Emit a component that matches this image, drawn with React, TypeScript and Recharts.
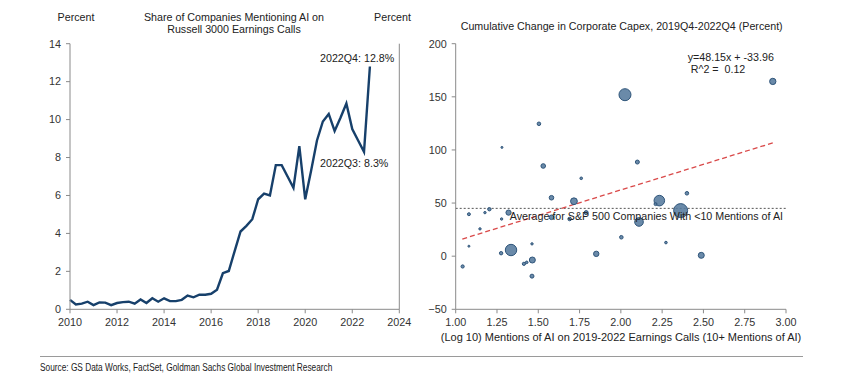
import React from "react";
import {
  Line,
  LineChart,
  ReferenceLine,
  Scatter,
  ScatterChart,
  XAxis,
  YAxis,
  ZAxis,
} from "recharts";

// share of Russell 3000 companies mentioning AI, quarterly from 2010Q1
const SHARE_START_YEAR = 2010;
const shareValues = [
  0.5, 0.25, 0.3, 0.4,
  0.22, 0.36, 0.35, 0.22,
  0.33, 0.38, 0.4, 0.3,
  0.52, 0.33, 0.58, 0.4,
  0.58, 0.43, 0.43, 0.5,
  0.72, 0.63, 0.77, 0.77,
  0.82, 1.03, 1.9, 2.02,
  3.07, 4.1, 4.4, 4.75,
  5.8, 6.1, 6.0, 7.6,
  7.6, 7.0, 6.4, 8.6,
  5.8, 7.3, 8.9, 9.9,
  10.3, 9.4, 10.1, 10.85,
  9.5, 8.9, 8.3, 12.8,
];
const yearTicks = [2010, 2012, 2014, 2016, 2018, 2020, 2022, 2024];
const percentTicks = [0, 2, 4, 6, 8, 10, 12, 14];

// capex scatter: log10 mentions, cumulative capex change, bubble weight
const mentionsLog = [
  2.025, 2.92, 1.504, 1.28, 1.53, 2.1, 1.76, 2.4, 1.58, 1.716,
  2.233, 2.21, 2.362, 2.11, 1.79, 1.69, 1.58, 1.08, 1.177, 1.204,
  1.32, 1.278, 1.147, 1.08, 1.335, 1.275, 1.462, 1.464, 1.413, 1.43,
  1.462, 1.042, 1.851, 2.003, 2.273, 2.487,
];
const capexChange = [
  152, 164.5, 124.6, 102.4, 84.9, 88.6, 73.3, 59.2, 55, 51.7,
  52.3, 49, 42.9, 32.2, 41, 35, 36.6, 39.5, 41, 44.2,
  41, 35, 25.7, 9.4, 5.8, 2.8, 11.6, -3.6, -7.2, -5.8,
  -18.8, -9.7, 2.2, 17.8, 12.8, 0.8,
];
const bubbleWeight = [
  36, 10, 3.2, 1, 5.3, 4, 1.7, 3.2, 5.3, 11.5,
  28, 2.2, 49, 18.5, 4, 3.2, 5.3, 2.2, 1.4, 2.9,
  6.8, 1.4, 1.4, 1, 32.5, 2.9, 1.4, 9, 2.6, 1.7,
  4, 2.6, 7.3, 3.2, 1.7, 9,
];
const mentionTicks = [1, 1.25, 1.5, 1.75, 2, 2.25, 2.5, 2.75, 3];
const capexTicks = [-50, 0, 50, 100, 150, 200];
const TREND_SLOPE = 48.15;
const TREND_INTERCEPT = -33.96;
const trendRange = [1.04, 2.92];
const SP500_AVERAGE = 45;

const FONT = "'Liberation Sans', Arial, Helvetica, sans-serif";
const AXIS = "#8a8a8a";
const TICK = { fill: "#333", fontSize: 10.8, fontFamily: FONT };

const shareData = shareValues.map((v, i) => ({ t: SHARE_START_YEAR + i / 4, v }));
const capexData = mentionsLog.map((x, i) => ({ x, y: capexChange[i], z: bubbleWeight[i] }));
const trendSegment = trendRange.map((x) => ({ x, y: TREND_SLOPE * x + TREND_INTERCEPT }));

const Txt = ({
  x,
  y,
  children,
  size = 10.7,
  align = "left",
  squeeze = 1,
}: {
  x: number;
  y: number;
  children: React.ReactNode;
  size?: number;
  align?: "left" | "center" | "right";
  squeeze?: number;
}) => {
  const shift = align === "center" ? "translateX(-50%)" : align === "right" ? "translateX(-100%)" : "";
  return (
    <div
      style={{
        position: "absolute",
        left: x,
        top: y - size * 0.6,
        fontSize: size,
        lineHeight: 1.2,
        fontFamily: FONT,
        color: "#222",
        whiteSpace: "pre",
        textAlign: align,
        transformOrigin: "left center",
        transform: `${shift} scaleX(${squeeze})`,
      }}
    >
      {children}
    </div>
  );
};

const fmtCapex = (v: number) => (v < 0 ? `\u2212${-v}` : `${v}`);

export default function App() {
  return (
    <div
      style={{
        position: "absolute",
        left: 0,
        top: 0,
        width: 851,
        height: 386,
        background: "#fff",
        overflow: "hidden",
      }}
    >
      <div style={{ position: "absolute", left: 0, top: 0 }}>
        <LineChart
          width={430}
          height={340}
          data={shareData}
          margin={{ top: 43.7, right: 5.7, left: 30, bottom: 10.7 }}
        >
          <XAxis
            dataKey="t"
            type="number"
            domain={[2010, 2024]}
            ticks={yearTicks}
            height={20}
            stroke={AXIS}
            tick={TICK}
            tickSize={4}
            tickMargin={5}
            interval={0}
          />
          <YAxis
            yAxisId="l"
            domain={[0, 14]}
            ticks={percentTicks}
            width={40}
            stroke={AXIS}
            tick={TICK}
            tickSize={4}
            tickMargin={5}
            interval={0}
          />
          <YAxis
            yAxisId="r"
            orientation="right"
            domain={[0, 14]}
            ticks={percentTicks}
            width={25}
            stroke={AXIS}
            tick={TICK}
            tickSize={4}
            tickMargin={1}
            interval={0}
          />
          <Line
            yAxisId="l"
            dataKey="v"
            type="linear"
            stroke="#17406b"
            strokeWidth={2.4}
            dot={false}
            isAnimationActive={false}
          />
        </LineChart>
      </div>

      <div style={{ position: "absolute", left: 420, top: 0 }}>
        <ScatterChart
          width={431}
          height={340}
          margin={{ top: 43.7, right: 65, left: 5.7, bottom: 10.7 }}
        >
          <XAxis
            dataKey="x"
            type="number"
            domain={[1, 3]}
            ticks={mentionTicks}
            tickFormatter={(v: number) => v.toFixed(2)}
            height={20}
            stroke={AXIS}
            tick={TICK}
            tickSize={4}
            tickMargin={5}
            interval={0}
          />
          <YAxis
            dataKey="y"
            type="number"
            domain={[-50, 200]}
            ticks={capexTicks}
            tickFormatter={fmtCapex}
            width={30}
            stroke={AXIS}
            tick={TICK}
            tickSize={4}
            tickMargin={5}
            interval={0}
          />
          <ZAxis dataKey="z" type="number" domain={[0, 49]} range={[0, 154]} />
          <ReferenceLine y={SP500_AVERAGE} stroke="#555" strokeDasharray="2 2" strokeWidth={1} />
          <ReferenceLine
            segment={trendSegment}
            stroke="#d94848"
            strokeDasharray="5 3"
            strokeWidth={1.3}
          />
          <Scatter
            data={capexData}
            fill="#557a9d"
            fillOpacity={0.88}
            stroke="#2f557a"
            strokeWidth={1}
            isAnimationActive={false}
          />
        </ScatterChart>
      </div>

      <Txt x={76} y={17} align="center">Percent</Txt>
      <Txt x={392.5} y={17} align="center">Percent</Txt>
      <Txt x={234} y={17} align="center">Share of Companies Mentioning AI on</Txt>
      <Txt x={234} y={29.5} align="center">Russell 3000 Earnings Calls</Txt>
      <Txt x={320} y={58}>2022Q4: 12.8%</Txt>
      <Txt x={320} y={163}>2022Q3: 8.3%</Txt>

      <Txt x={460.7} y={26}>Cumulative Change in Corporate Capex, 2019Q4-2022Q4 (Percent)</Txt>
      <Txt x={687.7} y={57.7}>y=48.15x + -33.96</Txt>
      <Txt x={687.7} y={69.7}>{" R^2 =  0.12"}</Txt>
      <Txt x={783} y={216.7} align="right">Average for S&amp;P 500 Companies With &lt;10 Mentions of AI</Txt>
      <Txt x={621} y={337.3} size={11} align="center">
        (Log 10) Mentions of AI on 2019-2022 Earnings Calls (10+ Mentions of AI)
      </Txt>

      <div
        style={{
          position: "absolute",
          left: 40,
          top: 355.5,
          width: 763,
          height: 1,
          background: "#9a9a9a",
        }}
      />
      <Txt x={40} y={368.3} size={10} squeeze={0.83}>
        Source: GS Data Works, FactSet, Goldman Sachs Global Investment Research
      </Txt>
    </div>
  );
}
